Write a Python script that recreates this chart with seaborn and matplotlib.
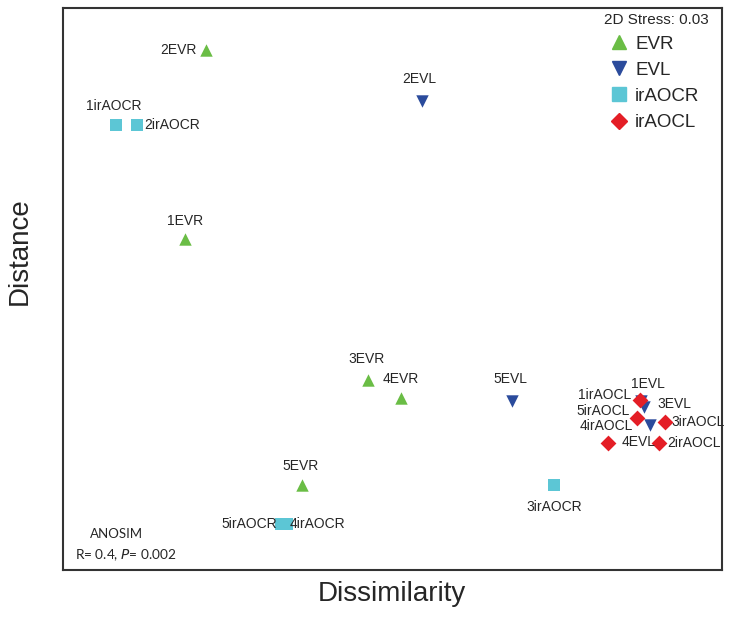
import pandas as pd
import matplotlib
matplotlib.use("Agg")
import matplotlib.pyplot as plt
from matplotlib.lines import Line2D
import seaborn as sns

# NMDS coordinates (arbitrary units)
evr_names = ['1EVR', '2EVR', '3EVR', '4EVR', '5EVR']
evr_x = [-0.69, -0.62, -0.08, 0.03, -0.30]
evr_y = [0.17, 0.80, -0.30, -0.36, -0.65]

evl_names = ['1EVL', '2EVL', '3EVL', '4EVL', '5EVL']
evl_x = [0.83, 0.10, 0.84, 0.86, 0.40]
evl_y = [-0.37, 0.63, -0.39, -0.45, -0.37]

ocr_names = ['1irAOCR', '2irAOCR', '3irAOCR', '4irAOCR', '5irAOCR']
ocr_x = [-0.92, -0.85, 0.54, -0.35, -0.37]
ocr_y = [0.55, 0.55, -0.65, -0.78, -0.78]

ocl_names = ['1irAOCL', '2irAOCL', '3irAOCL', '4irAOCL', '5irAOCL']
ocl_x = [0.827, 0.89, 0.91, 0.72, 0.817]
ocl_y = [-0.367, -0.51, -0.44, -0.51, -0.427]

groups = ['EVR', 'EVL', 'irAOCR', 'irAOCL']
colors = {'EVR': '#6abd45', 'EVL': '#2b4b9c', 'irAOCR': '#5cc6d5', 'irAOCL': '#e41e26'}
markers = {'EVR': '^', 'EVL': 'v', 'irAOCR': 's', 'irAOCL': 'D'}
sizes = {'EVR': 80, 'EVL': 80, 'irAOCR': 72, 'irAOCL': 65}

df = pd.concat([
    pd.DataFrame({'name': evr_names, 'x': evr_x, 'y': evr_y, 'group': 'EVR'}),
    pd.DataFrame({'name': evl_names, 'x': evl_x, 'y': evl_y, 'group': 'EVL'}),
    pd.DataFrame({'name': ocr_names, 'x': ocr_x, 'y': ocr_y, 'group': 'irAOCR'}),
    pd.DataFrame({'name': ocl_names, 'x': ocl_x, 'y': ocl_y, 'group': 'irAOCL'}),
], ignore_index=True)

# where each label sits relative to its point (offset points, ha)
label_pos = {
    '1EVR': (0, 13, 'center'), '2EVR': (-7, 0, 'right'), '3EVR': (-1, 15, 'center'),
    '4EVR': (0, 14, 'center'), '5EVR': (-1, 14, 'center'),
    '1EVL': (5, 12, 'center'), '2EVL': (-2, 16, 'center'), '3EVL': (10, 2, 'left'),
    '4EVL': (-20, -12, 'left'), '5EVL': (-1, 16, 'center'),
    '1irAOCL': (-6, 3.5, 'right'), '2irAOCL': (6, 0, 'left'), '3irAOCL': (5, 0, 'left'),
    '4irAOCL': (18, 12, 'right'), '5irAOCL': (-5, 5, 'right'),
    '1irAOCR': (-2, 14, 'center'), '2irAOCR': (5, 0, 'left'), '3irAOCR': (0, -16, 'center'),
    '4irAOCR': (2, 0, 'left'), '5irAOCR': (-3, 0, 'right'),
}

sns.set_style('white')
plt.rcParams['font.family'] = ['Liberation Sans', 'DejaVu Sans']

fig = plt.figure(figsize=(7.41, 6.21), dpi=100)
ax = fig.add_axes([0.085, 0.082, 0.889, 0.905])

for g in groups:
    sub = df[df['group'] == g]
    sns.scatterplot(data=sub, x='x', y='y', color=colors[g], marker=markers[g],
                    s=sizes[g], linewidth=0, ax=ax, legend=False, zorder=3)

for _, r in df.iterrows():
    dx, dy, ha = label_pos[r['name']]
    ax.annotate(r['name'], (r['x'], r['y']), xytext=(dx, dy), textcoords='offset points',
                ha=ha, va='center', fontsize=10, zorder=4)

ax.set_xlim(-1.097, 1.1)
ax.set_ylim(-0.933, 0.94)
ax.set_xticks([])
ax.set_yticks([])
for sp in ax.spines.values():
    sp.set_color('#333333')
    sp.set_linewidth(1.5)

ax.set_xlabel('Dissimilarity', fontsize=20)
ax.set_ylabel('Distance', fontsize=20)
ax.xaxis.set_label_coords(0.5, -0.02)
ax.yaxis.set_label_coords(-0.046, 0.568)

handles = [Line2D([], [], linestyle='none', marker=markers[g], color=colors[g],
                  markersize=10 if g != 'irAOCL' else 8, label=g) for g in groups]
leg = ax.legend(handles=handles, title='2D Stress: 0.03', loc='upper right',
                bbox_to_anchor=(0.985, 0.997),
                frameon=False, fontsize=13.5, title_fontsize=11, handletextpad=0.05,
                labelspacing=0.48, borderaxespad=0.0, borderpad=0.15, handlelength=1.6)
leg._legend_box.align = 'left'

ax.text(0.082, 0.064, 'ANOSIM', transform=ax.transAxes, ha='center', va='center',
        fontsize=9.5, family=['Lato', 'DejaVu Sans'])
ax.text(0.018, 0.027, 'R= 0.4, $\\it{P}$= 0.002', transform=ax.transAxes, ha='left',
        va='center', fontsize=9.8, family=['Lato', 'DejaVu Sans'])

fig.savefig('out.png', dpi=100)
